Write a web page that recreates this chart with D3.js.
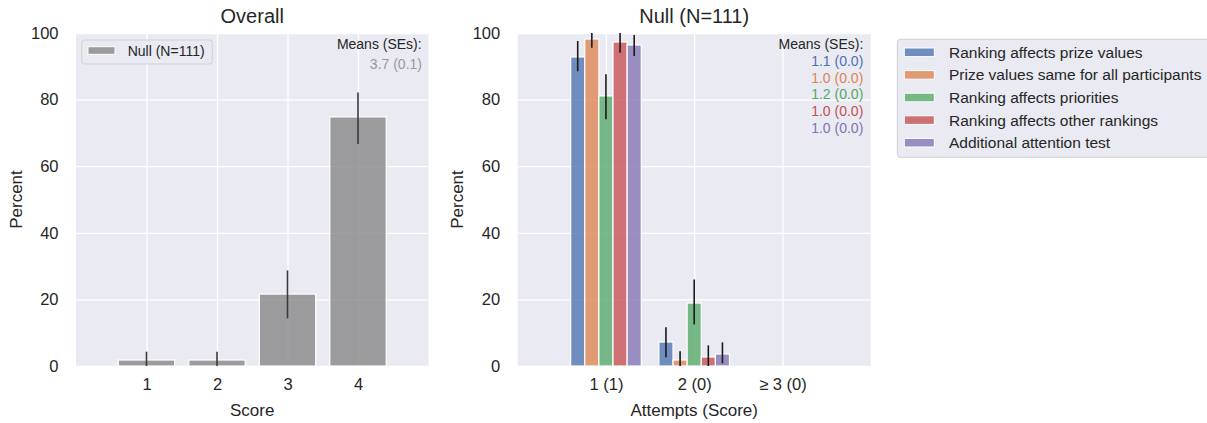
<!DOCTYPE html>
<html>
<head>
<meta charset="utf-8">
<script src="https://cdn.jsdelivr.net/npm/d3@7"></script>
<style>
  body { margin: 0; background: #fff; }
  text { font-family: "Liberation Sans", Arial, sans-serif; fill: #262626; }
</style>
</head>
<body>
<svg id="chart" width="1207" height="423"></svg>
<script>
// ---------- DATA ----------
const scores = [1, 2, 3, 4];
const overallPct = [1.8, 1.8, 21.6, 74.8];
const overallLo = [0, 0, 14.3, 66.7];
const overallHi = [4.3, 4.3, 28.7, 82.1];
const overallMean = "3.7 (0.1)";
const overallLegend = "Null (N=111)";

const attemptLabels = ["1 (1)", "2 (0)", "≥ 3 (0)"];
const seriesNames = [
  "Ranking affects prize values",
  "Prize values same for all participants",
  "Ranking affects priorities",
  "Ranking affects other rankings",
  "Additional attention test"
];
const seriesColors = ["#4C72B0", "#DD8452", "#55A868", "#C44E52", "#8172B3"];
const prizeValues   = [92.8, 7.2, 0];
const prizeSame     = [98.2, 1.8, 0];
const priorities    = [81.1, 18.9, 0];
const otherRankings = [97.3, 2.7, 0];
const attention     = [96.4, 3.6, 0];
const seriesValues = [prizeValues, prizeSame, priorities, otherRankings, attention];
const seriesLo = [[88.5, 2.6, 0], [95.6, 0, 0], [74.1, 12.5, 0], [94.1, 0, 0], [93.1, 0.8, 0]];
const seriesHi = [[97.6, 11.6, 0], [100, 4.4, 0], [87.6, 26.0, 0], [100, 6.2, 0], [99.4, 7.1, 0]];
const seriesMeans = ["1.1 (0.0)", "1.0 (0.0)", "1.2 (0.0)", "1.0 (0.0)", "1.0 (0.0)"];
const yTicks = [0, 20, 40, 60, 80, 100];

// ---------- DRAW ----------
const svg = d3.select("#chart");
const BG = "#EAEAF2";
const plotTop = 33, plotBottom = 366;
const y = d3.scaleLinear().domain([0, 100]).range([plotBottom, plotTop]);

function panel(x0, x1, xDomain, xTickVals, xTickFmt, title, xLabel, ylabX) {
  const x = d3.scaleLinear().domain(xDomain).range([x0, x1]);
  const g = svg.append("g");
  g.append("rect").attr("x", x0).attr("y", plotTop).attr("width", x1 - x0).attr("height", plotBottom - plotTop).attr("fill", BG);
  // grid
  g.append("g").attr("transform", `translate(${x0},0)`)
    .call(d3.axisLeft(y).tickValues(yTicks).tickSize(-(x1 - x0)).tickFormat(""))
    .call(s => s.select(".domain").remove())
    .call(s => s.selectAll("line").attr("stroke", "#fff").attr("stroke-width", 1.3));
  g.append("g").attr("transform", `translate(0,${plotBottom})`)
    .call(d3.axisBottom(x).tickValues(xTickVals).tickSize(-(plotBottom - plotTop)).tickFormat(""))
    .call(s => s.select(".domain").remove())
    .call(s => s.selectAll("line").attr("stroke", "#fff").attr("stroke-width", 1.3));
  // tick labels
  g.append("g").attr("transform", `translate(${x0},0)`)
    .call(d3.axisLeft(y).tickValues(yTicks).tickSize(0).tickPadding(17.5))
    .call(s => s.select(".domain").remove())
    .call(s => s.selectAll("text").attr("font-size", 16.5).attr("fill", "#262626")
      .attr("font-family", '"Liberation Sans", Arial, sans-serif'));
  g.append("g").attr("transform", `translate(0,${plotBottom})`)
    .call(d3.axisBottom(x).tickValues(xTickVals).tickFormat(xTickFmt).tickSize(0).tickPadding(12))
    .call(s => s.select(".domain").remove())
    .call(s => s.selectAll("text").attr("font-size", 16.5).attr("fill", "#262626")
      .attr("font-family", '"Liberation Sans", Arial, sans-serif'));
  g.append("text").attr("x", (x0 + x1) / 2).attr("y", 23).attr("text-anchor", "middle")
    .attr("font-size", 20).text(title);
  g.append("text").attr("x", (x0 + x1) / 2).attr("y", 416).attr("text-anchor", "middle")
    .attr("font-size", 17).text(xLabel);
  g.append("text").attr("transform", `translate(${ylabX},${(plotTop + plotBottom) / 2}) rotate(-90)`)
    .attr("text-anchor", "middle").attr("font-size", 17).text("Percent");
  return { g, x };
}

// Left panel
const L = panel(76, 428.5, [0, 5], scores, d => d, "Overall", "Score", 21.5);
L.g.selectAll(".barL").data(scores).enter().append("rect")
  .attr("x", (d) => L.x(d - 0.4)).attr("width", L.x(0.8) - L.x(0))
  .attr("y", (d, i) => y(overallPct[i])).attr("height", (d, i) => y(0) - y(overallPct[i]))
  .attr("fill", "#808080").attr("fill-opacity", 0.75).attr("stroke", "#fff").attr("stroke-width", 1.2);
L.g.selectAll(".errL").data(scores).enter().append("line")
  .attr("x1", (d) => L.x(d)).attr("x2", (d) => L.x(d))
  .attr("y1", (d, i) => y(overallLo[i])).attr("y2", (d, i) => y(overallHi[i]))
  .attr("stroke", "#3a3a3a").attr("stroke-width", 1.6);
// left legend
L.g.append("rect").attr("x", 81.7).attr("y", 40).attr("width", 130.6).attr("height", 24).attr("rx", 3)
  .attr("fill", BG).attr("stroke", "#cfcfd6").attr("stroke-width", 1);
L.g.append("rect").attr("x", 88).attr("y", 46.7).attr("width", 27).attr("height", 7.6)
  .attr("fill", "#808080").attr("fill-opacity", 0.75).attr("stroke", "#fff").attr("stroke-width", 1);
L.g.append("text").attr("x", 127.7).attr("y", 56).attr("font-size", 14).text(overallLegend);
L.g.append("text").attr("x", 421.7).attr("y", 49.3).attr("text-anchor", "end").attr("font-size", 14).text("Means (SEs):");
L.g.append("text").attr("x", 422).attr("y", 69).attr("text-anchor", "end").attr("font-size", 14)
  .style("fill", "#999999").text(overallMean);

// Right panel
const R = panel(517.7, 870.7, [0, 4], [1, 2, 3], d => attemptLabels[d - 1], "Null (N=111)", "Attempts (Score)", 463);
const bw = 0.16;
seriesValues.forEach((vals, si) => {
  const off = (si - 2) * bw;
  R.g.selectAll(".bar" + si).data(vals).enter().append("rect")
    .attr("x", (d, i) => R.x(i + 1 + off - bw / 2)).attr("width", R.x(bw) - R.x(0))
    .attr("y", d => y(d)).attr("height", d => y(0) - y(d))
    .attr("fill", seriesColors[si]).attr("fill-opacity", 0.78)
    .attr("stroke", "#fff").attr("stroke-width", d => d > 0 ? 1.2 : 0);
});
seriesValues.forEach((vals, si) => {
  const off = (si - 2) * bw;
  vals.forEach((d, i) => {
    if (d <= 0) return;
    R.g.append("line")
      .attr("x1", R.x(i + 1 + off)).attr("x2", R.x(i + 1 + off))
      .attr("y1", y(seriesLo[si][i])).attr("y2", y(seriesHi[si][i]))
      .attr("stroke", "#1a1a1a").attr("stroke-width", 1.6);
  });
});
R.g.append("text").attr("x", 863.3).attr("y", 49.3).attr("text-anchor", "end").attr("font-size", 14).text("Means (SEs):");
seriesMeans.forEach((m, i) => {
  R.g.append("text").attr("x", 863.3).attr("y", 66 + i * 16.7).attr("text-anchor", "end")
    .attr("font-size", 14).style("fill", seriesColors[i]).text(m);
});

// right legend
const lg = svg.append("g");
lg.append("rect").attr("x", 897.3).attr("y", 39.3).attr("width", 330).attr("height", 118).attr("rx", 3)
  .attr("fill", BG).attr("stroke", "#cfcfd6").attr("stroke-width", 1);
seriesNames.forEach((n, i) => {
  const cy = 52.3 + i * 22.6;
  lg.append("rect").attr("x", 904.3).attr("y", cy - 4.3).attr("width", 30).attr("height", 8.6)
    .attr("fill", seriesColors[i]).attr("fill-opacity", 0.78).attr("stroke", "#fff").attr("stroke-width", 1);
  lg.append("text").attr("x", 949).attr("y", cy + 5.5).attr("font-size", 15.5).text(n);
});
</script>
</body>
</html>
